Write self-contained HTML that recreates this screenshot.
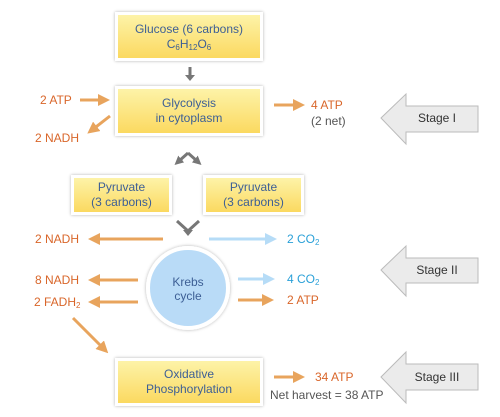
<!DOCTYPE html>
<html><head><style>
body{margin:0;width:500px;height:417px;background:#fff;position:relative;overflow:hidden;font-family:"Liberation Sans",Arial,sans-serif}
.box{position:absolute;background:linear-gradient(#fdf3a8,#fbd960);border:3px solid #fff;box-shadow:0 0 3px rgba(0,0,0,.3);color:#3d5f95;font-size:12px;text-align:center;line-height:15px;box-sizing:border-box;display:flex;flex-direction:column;justify-content:center}
.t{position:absolute;font-size:12px;color:#d9662a;white-space:nowrap}
.b{color:#2aa0d8}.g{color:#555}
sub{font-size:8px;vertical-align:-2px;line-height:0}
</style></head><body>
<svg width="500" height="417" style="position:absolute;left:0;top:0">
<defs>
<marker id="o" markerWidth="4" markerHeight="4" refX="2" refY="2" orient="auto" markerUnits="strokeWidth"><path d="M0,0L4,2L0,4z" fill="#e8a45d"/></marker>
<marker id="bl" markerWidth="4" markerHeight="4" refX="2" refY="2" orient="auto" markerUnits="strokeWidth"><path d="M0,0L4,2L0,4z" fill="#b6dcf7"/></marker>
<marker id="gr" markerWidth="3" markerHeight="3" refX="1" refY="1.5" orient="auto" markerUnits="strokeWidth"><path d="M0,0L3,1.5L0,3z" fill="#777"/></marker>
<filter id="sh" x="-20%" y="-20%" width="140%" height="140%"><feDropShadow dx="0" dy="0" stdDeviation="1.5" flood-opacity="0.3"/></filter>
</defs>
<g stroke="#e8a45d" stroke-width="3" fill="none" marker-end="url(#o)">
<line x1="80" y1="100" x2="104" y2="100"/>
<line x1="110" y1="116" x2="92" y2="130"/>
<line x1="274" y1="105" x2="299" y2="105"/>
<line x1="163" y1="239" x2="94" y2="239"/>
<line x1="138" y1="280" x2="94" y2="280"/>
<line x1="138" y1="302" x2="94" y2="302"/>
<line x1="238" y1="300" x2="268" y2="300"/>
<line x1="73" y1="318" x2="104" y2="349"/>
<line x1="274" y1="377" x2="299" y2="377"/>
</g>
<g stroke="#b6dcf7" stroke-width="3" fill="none" marker-end="url(#bl)">
<line x1="209" y1="239" x2="271" y2="239"/>
<line x1="238" y1="279" x2="269" y2="279"/>
</g>
<g stroke="#777" stroke-width="3" fill="none">
<line x1="190" y1="67" x2="190" y2="75"/>
<line x1="188" y1="153" x2="179" y2="161" marker-end="url(#gr)"/>
<line x1="188" y1="153" x2="197" y2="161" marker-end="url(#gr)"/>
<polyline points="177,221 188,231 199,221"/>
</g>
<path d="M185,75h10l-5,6z" fill="#777"/>
<path d="M183,230h10l-5,6z" fill="#777"/>
<circle cx="188" cy="288" r="40" fill="#b9dbf7" stroke="#fff" stroke-width="4" filter="url(#sh)"/>
<g fill="#ebebeb" stroke="#bbb" stroke-width="1">
<path d="M381,118L406,94V106H478V132H406V144Z"/>
<path d="M381,270L406,246V258H478V283H406V296Z"/>
<path d="M381,377L406,352V364H478V390H406V403Z"/>
</g>
<g font-size="12" fill="#333" font-family="Liberation Sans,sans-serif" text-anchor="middle">
<text x="437" y="122">Stage I</text>
<text x="437" y="274">Stage II</text>
<text x="437" y="381">Stage III</text>
</g>
<g font-size="12" fill="#3d5f95" font-family="Liberation Sans,sans-serif" text-anchor="middle">
<text x="188" y="286">Krebs</text>
<text x="188" y="300">cycle</text>
</g>
</svg>
<div class="box" style="left:115px;top:12px;width:148px;height:49px">Glucose (6 carbons)<span>C<sub>6</sub>H<sub>12</sub>O<sub>6</sub></span></div>
<div class="box" style="left:115px;top:86px;width:148px;height:50px">Glycolysis<br>in cytoplasm</div>
<div class="box" style="left:71px;top:175px;width:101px;height:40px">Pyruvate<br>(3 carbons)</div>
<div class="box" style="left:203px;top:175px;width:101px;height:40px">Pyruvate<br>(3 carbons)</div>
<div class="box" style="left:115px;top:358px;width:148px;height:48px">Oxidative<br>Phosphorylation</div>
<div class="t" style="left:40px;top:93px">2 ATP</div>
<div class="t" style="left:35px;top:131px">2 NADH</div>
<div class="t" style="left:311px;top:98px">4 ATP</div>
<div class="t g" style="left:311px;top:114px">(2 net)</div>
<div class="t" style="left:35px;top:232px">2 NADH</div>
<div class="t" style="left:35px;top:273px">8 NADH</div>
<div class="t" style="left:34px;top:295px">2 FADH<sub>2</sub></div>
<div class="t b" style="left:287px;top:232px">2 CO<sub>2</sub></div>
<div class="t b" style="left:287px;top:272px">4 CO<sub>2</sub></div>
<div class="t" style="left:287px;top:293px">2 ATP</div>
<div class="t" style="left:315px;top:370px">34 ATP</div>
<div class="t g" style="left:270px;top:388px">Net harvest = 38 ATP</div>
</body></html>
